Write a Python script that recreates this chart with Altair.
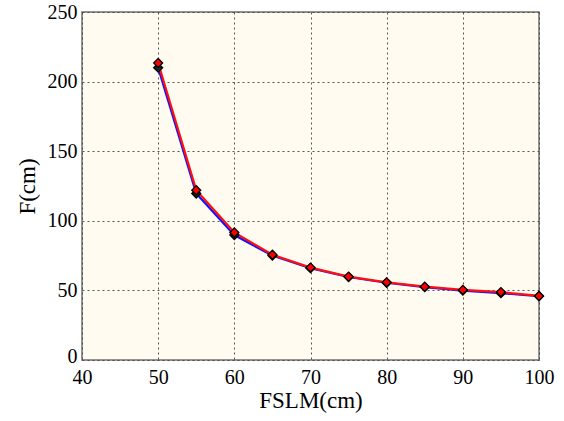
import altair as alt
import pandas as pd

fslm = [50, 55, 60, 65, 70, 75, 80, 85, 90, 95, 100]
f_blue = [210, 119.6, 89.8, 75.0, 66.0, 59.6, 55.5, 52.4, 49.9, 48.0, 45.8]
f_red = [213.4, 122.0, 91.6, 75.6, 66.4, 59.9, 55.8, 52.7, 50.4, 48.8, 46.0]

rows = []
for x, y in zip(fslm, f_blue):
    rows.append({"FSLM": x, "F": y, "series": "blue", "order": 0})
for x, y in zip(fslm, f_red):
    rows.append({"FSLM": x, "F": y, "series": "red", "order": 1})
df = pd.DataFrame(rows)

FONT = "Liberation Serif"

xenc = alt.X("FSLM:Q", title="FSLM(cm)",
             scale=alt.Scale(domain=[40, 100], nice=False, zero=False),
             axis=alt.Axis(values=[40, 50, 60, 70, 80, 90, 100], format="d"))
yenc = alt.Y("F:Q", title="F(cm)",
             scale=alt.Scale(domain=[0, 250], nice=False),
             axis=alt.Axis(values=[0, 50, 100, 150, 200, 250], format="d",
                           labelOffset={"expr": "datum.value == 0 ? -4 : 0"}))
color = alt.Color("series:N", legend=None,
                  scale=alt.Scale(domain=["blue", "red"], range=["#1010ff", "#ff1010"]))

base = alt.Chart(df)
lines = base.mark_line(strokeWidth=2.2).encode(
    x=xenc, y=yenc, color=color, detail="series:N", order="order:Q")
points = base.mark_point(shape="diamond", filled=True, size=80,
                         stroke="black", strokeWidth=1.3, opacity=1).encode(
    x=xenc, y=yenc, fill=alt.Fill("series:N", legend=None,
                                  scale=alt.Scale(domain=["blue", "red"], range=["#222222", "#ff0000"])),
    order="order:Q")

chart = (lines + points).properties(
    width=457, height=348,
    autosize=alt.AutoSizeParams(type="none"),
    padding={"left": 82, "top": 12, "right": 25, "bottom": 61},
    background="white",
).configure_view(
    fill="#fffbf0", stroke="#707070", strokeWidth=1.5
).configure_axis(
    labelFont=FONT, titleFont=FONT,
    labelFontSize=20, titleFontSize=23, labelColor="black", titleColor="black",
    titleFontWeight="normal", labelFlush=False, labelOverlap=False,
    domain=False, ticks=False,
    grid=True, gridColor="#444444", gridDash=[2, 3], gridWidth=1, gridOpacity=0.9,
).configure_axisX(
    labelPadding=7, titlePadding=2
).configure_axisY(
    labelPadding=5, titlePadding=8
)

chart.save("out.html", embed_options={"renderer": "svg", "actions": False})
